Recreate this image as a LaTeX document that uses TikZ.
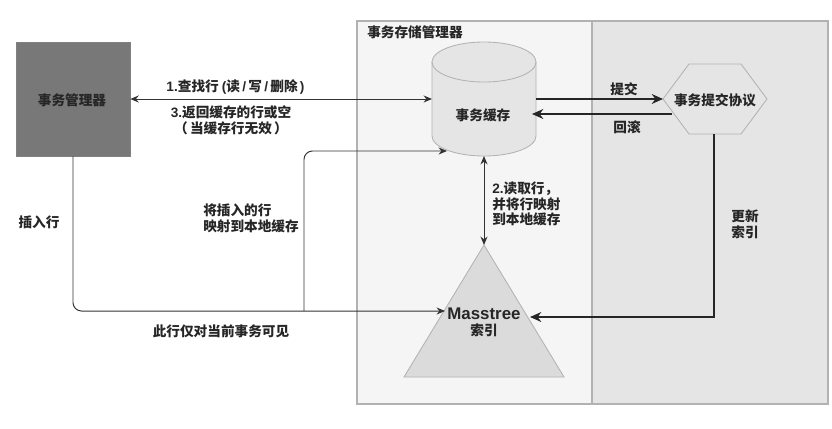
\documentclass[tikz,border=0pt]{standalone}
\usepackage{fontspec}
\setmainfont{Noto Sans CJK SC}
\newfontfamily\latin{Liberation Sans}
\usetikzlibrary{arrows.meta,positioning,calc,shapes.geometric}
\begin{document}
\begin{tikzpicture}[
    x=0.025cm, y=-0.025cm,
    panel/.style={draw=black!30, line width=0.8pt},
    txt/.style={font=\fontsize{9.7}{11.2}\selectfont\bfseries, text=black!85, inner sep=0pt, align=center},
    txtl/.style={txt, align=left, anchor=west},
    thinarrow/.style={draw=black!80, line width=0.7pt, -{Stealth[length=6pt,width=5pt]}},
    thickarrow/.style={draw=black!85, line width=1.5pt, -{Stealth[length=8pt,width=7pt]}},
    grayshape/.style={draw=black!30, line width=0.6pt},
    capend/.style={x radius=1.3cm, y radius=0.5cm}
]
\useasboundingbox (0,0) rectangle (832,428);

% panels
\path[panel, fill=black!4] (357,21) rectangle (592,404);
\path[panel, fill=black!10] (592,21) rectangle (828,404);
\node[txtl] (storemgr) at (367,32) {事务存储管理器};

% transaction manager
\node[draw=black!50, fill=black!53, minimum size=2.85cm, inner sep=0pt] (txmgr) at (73,99) {};
\node[txt] (txmgrlabel) at (72,100) {事务管理器};

% cache
\coordinate (cachew) at (432,99);
\coordinate (cachee) at (536,99);
\coordinate (caches) at (484,156);
\draw[grayshape, fill=black!10] (432,62) -- (432,136) arc[start angle=180, end angle=360, capend]
    -- (536,62) arc[start angle=0, end angle=180, capend] -- cycle;
\draw[grayshape] (432,62) arc[start angle=180, end angle=360, capend];
\node[txt] (cachelabel) at (483,115) {事务缓存};

% commit protocol
\coordinate (hexw) at (663,99);
\coordinate (hexe) at (767,99);
\coordinate (hexs) at (714,134);
\draw[grayshape, fill=black!10] (hexw) -- (689,64) -- (741,64) -- (hexe) -- (741,134) -- (689,134) -- cycle;
\node[txt] (protocol) at (715,100) {事务提交协议};

% index
\coordinate (apex) at (484,245);
\draw[grayshape, fill=black!14] (apex) -- (564,377) -- (404,377) -- cycle;
\node[txt] (index) at (484,322) {{\latin\fontsize{12}{14}\selectfont Masstree}\\索引};

% free ends
\coordinate (insertend) at (445,311);
\coordinate (mapend) at (447,151);
\coordinate (branch) at (304,311);
\coordinate (backstart) at (672,114);
\coordinate (backend) at (532,114);
\coordinate (updateend) at (530,317);

% connectors
\draw[thinarrow, {Stealth[length=6pt,width=5pt]}-{Stealth[length=6pt,width=5pt]}] (txmgr.east) -- (cachew);
\draw[thinarrow, {Stealth[length=6pt,width=5pt]}-{Stealth[length=6pt,width=5pt]}] (caches) -- (apex);
\draw[thinarrow, rounded corners=6pt] (txmgr.south) |- (insertend);
\draw[thinarrow, rounded corners=6pt] (branch) |- (mapend);
\draw[thickarrow] (cachee) -- (hexw);
\draw[thickarrow] (backstart) -- (backend);
\draw[thickarrow] (hexs) |- (updateend);

% labels
\node[txt] (lookup) at (235.5,87) {{\latin 1.}查找行 {\latin (}读\,{\latin /}\,写\,{\latin /}\,删除{\latin\,)}};
\node[txt] (ret) at (231,120) {{\latin 3.}返回缓存的行或空\\（\,当缓存行无效\,）};
\node[txt] (commitlabel) at (624,89) {提交};
\node[txt] (rollback) at (627,127) {回滚};
\node[txtl] (readrow) at (492,204) {{\latin 2.}读取行，\\并将行映射\\到本地缓存};
\node[txt] (update) at (745,224) {更新\\索引};
\node[txt] (insert) at (39,222) {插入行};
\node[txtl] (maprow) at (203,218.5) {将插入的行\\映射到本地缓存};
\node[txt] (visible) at (221,331) {此行仅对当前事务可见};

\end{tikzpicture}
\end{document}
